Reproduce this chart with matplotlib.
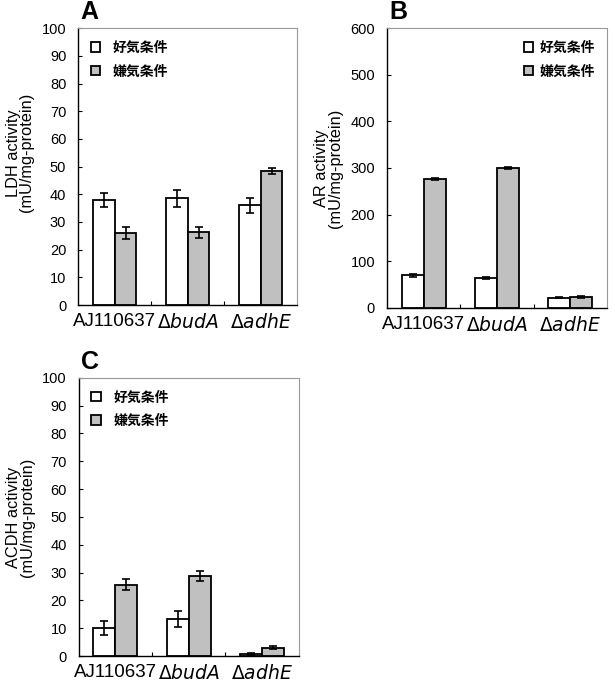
import matplotlib.pyplot as plt
from matplotlib.patches import Patch
import numpy as np

plt.rcParams['font.family'] = ['Liberation Sans', 'Noto Sans CJK JP', 'DejaVu Sans']

# ====== Data ======
strains = ["AJ110637", r"$\Delta$$\it{budA}$", r"$\Delta$$\it{adhE}$"]
conditions = ["好気条件", "嫌気条件"]

ldh_aer = [38.0, 38.5, 36.0]
ldh_aer_err = [2.5, 3.0, 2.7]
ldh_ana = [26.0, 26.2, 48.5]
ldh_ana_err = [2.3, 2.0, 1.0]

ar_aer = [70.0, 64.0, 22.0]
ar_aer_err = [3.0, 3.0, 2.0]
ar_ana = [277.0, 300.0, 24.0]
ar_ana_err = [2.0, 3.0, 2.0]

acdh_aer = [10.0, 13.3, 0.8]
acdh_aer_err = [2.5, 3.0, 0.3]
acdh_ana = [25.7, 28.8, 3.0]
acdh_ana_err = [2.0, 1.7, 0.5]

fig = plt.figure(figsize=(6.15, 6.87), dpi=100)

ax_a = fig.add_axes([0.127, 0.556, 0.356, 0.403])
ax_b = fig.add_axes([0.629, 0.552, 0.358, 0.407])
ax_c = fig.add_axes([0.128, 0.045, 0.358, 0.405])

x = np.arange(len(strains))
w = 0.3


def draw_panel(ax, aer, aer_err, ana, ana_err, ymax, step, ylabel, letter,
               legend_loc, textpad, label_y=0.5):
    ax.bar(x - w / 2, aer, w, yerr=aer_err, color="white", edgecolor="black",
           linewidth=1.3, capsize=3, error_kw=dict(elinewidth=1.2, capthick=1.2),
           label=conditions[0], zorder=2)
    ax.bar(x + w / 2, ana, w, yerr=ana_err, color="#c0c0c0", edgecolor="black",
           linewidth=1.3, capsize=3, error_kw=dict(elinewidth=1.2, capthick=1.2),
           label=conditions[1], zorder=2)
    ax.set_xlim(-0.5, 2.5)
    ax.set_ylim(0, ymax)
    ax.set_yticks(np.arange(0, ymax + 1, step))
    ax.tick_params(axis="y", direction="in", length=3, labelsize=10.5,
                   width=0.8, pad=8.5)
    ax.set_xticks(x)
    ax.set_xticklabels(strains, fontsize=13.5)
    ax.tick_params(axis="x", length=0, pad=6)
    # small inward ticks between groups
    ax.set_xticks([0.5, 1.5], minor=True)
    ax.tick_params(axis="x", which="minor", direction="in", length=3, width=0.8)
    ax.set_ylabel(ylabel, fontsize=11.8, linespacing=0.9)
    ax.yaxis.set_label_coords(-0.2, label_y)
    for s in ["top", "right"]:
        ax.spines[s].set_color("#999999")
        ax.spines[s].set_linewidth(0.8)
    for s in ["left", "bottom"]:
        ax.spines[s].set_linewidth(1.0)
    ax.text(0.01, 1.015, letter, transform=ax.transAxes, fontsize=18,
            fontweight="bold", ha="left", va="bottom")
    handles = [Patch(facecolor="white", edgecolor="black", linewidth=1.3),
               Patch(facecolor="#c0c0c0", edgecolor="black", linewidth=1.3)]
    ax.legend(handles, conditions, loc=legend_loc, frameon=False,
              handlelength=0.7, handleheight=0.7, handletextpad=textpad,
              labelspacing=0.7, prop={"family": ["Noto Sans CJK JP"], "size": 10,
                                      "weight": "bold"})


draw_panel(ax_a, ldh_aer, ldh_aer_err, ldh_ana, ldh_ana_err, 100, 10,
           "LDH activity\n(mU/mg-protein)", "A", "upper left", 0.9, 0.55)
draw_panel(ax_b, ar_aer, ar_aer_err, ar_ana, ar_ana_err, 600, 100,
           "AR activity\n(mU/mg-protein)", "B", "upper right", 0.4)
draw_panel(ax_c, acdh_aer, acdh_aer_err, acdh_ana, acdh_ana_err, 100, 10,
           "ACDH activity\n(mU/mg-protein)", "C", "upper left", 0.9)

fig.savefig("out.png", dpi=100)
